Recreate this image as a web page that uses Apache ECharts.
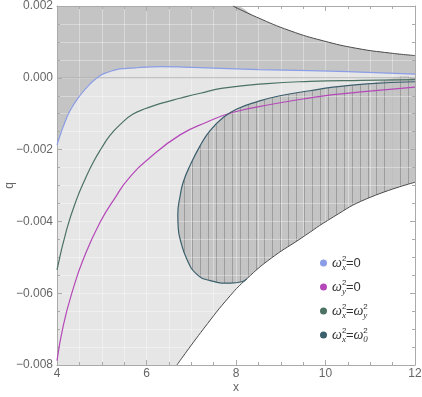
<!DOCTYPE html>
<html>
<head>
<meta charset="utf-8">
<script src="https://cdn.jsdelivr.net/npm/echarts@6/dist/echarts.min.js"></script>
<style>
  html, body { margin: 0; padding: 0; background: #fff; }
  #main { width: 422px; height: 397px; }
</style>
</head>
<body>
<div id="main"></div>
<script>
// curve samples
var blueX = [4, 4.07, 4.14, 4.29, 4.51, 4.74, 4.96, 5.15, 5.33, 5.55, 5.78, 6.3, 6.82, 7.5, 8.5, 9.65, 10.5, 12];
var blueY = [-0.00187, -0.0016, -0.00136, -0.00092, -0.0005, -0.00017, 0.00006, 0.00016, 0.00023, 0.00026, 0.00028, 0.00031, 0.0003, 0.00027, 0.00023, 0.0002, 0.00017, 0.0001];

var purpleX = [4, 4.14, 4.36, 4.59, 4.96, 5.33, 5.59, 6.08, 6.75, 7.34, 7.94, 8.83, 9.5, 10.17, 10.92, 12];
var purpleY = [-0.00788, -0.0069, -0.00588, -0.00505, -0.00403, -0.00328, -0.00282, -0.00222, -0.00159, -0.00124, -0.00096, -0.00073, -0.00059, -0.00047, -0.00038, -0.00026];

var greenX = [4, 4.22, 4.44, 4.63, 4.81, 5.0, 5.18, 5.44, 5.7, 6.0, 6.3, 6.75, 7.2, 7.71, 8.69, 9.65, 10.8, 12];
var greenY = [-0.00535, -0.00421, -0.00338, -0.00282, -0.00235, -0.00195, -0.00161, -0.00127, -0.00101, -0.00085, -0.00072, -0.00057, -0.00043, -0.00029, -0.00016, -0.0001, -0.00007, -0.00005];

// closed curve, starting at the right edge, upper branch first
var tealX = [12, 10.92, 10.17, 9.65, 8.98, 8.46, 8.02, 7.72, 7.42, 7.2, 6.97, 6.82, 6.75, 6.7, 6.71, 6.75, 6.9, 7.12, 7.42, 7.87, 8.13, 8.24];
var tealY = [-0.00011, -0.00017, -0.00026, -0.00036, -0.0005, -0.00067, -0.00087, -0.0011, -0.00147, -0.00189, -0.00245, -0.00291, -0.0033, -0.0038, -0.0042, -0.00449, -0.00505, -0.00547, -0.00565, -0.00572, -0.00568, -0.0056];

var lowerX = [6.68, 7.27, 7.87, 8.24, 8.76, 9.43, 10.17, 10.92, 12];
var lowerY = [-0.008, -0.007, -0.00607, -0.0056, -0.00505, -0.00449, -0.00388, -0.00337, -0.00291];

var topX = [4, 7.93, 8.46, 9.21, 9.95, 10.7, 11.44, 12];
var topY = [0.002, 0.002, 0.00169, 0.00131, 0.00103, 0.00082, 0.00069, 0.00062];

var xTicks = [4, 12, 2];
var yTicks = [-0.008, 0.002, 0.002];

var names = ['wx', 'wy', 'wxy', 'wx0'];
var labels = {
    wx: '{w|ω}{p|2}{b|x}{t|=0}',
    wy: '{w|ω}{p|2}{b|y}{t|=0}',
    wxy: '{w|ω}{p|2}{b|x}{t|=}{w|ω}{p|2}{b|y}',
    wx0: '{w|ω}{p|2}{b|x}{t|=}{w|ω}{p|2}{b|0}'
};

function pairs(xs, ys) {
    return xs.map(function (x, i) { return [x, ys[i]]; });
}

// hatched region = closed curve + lower boundary back to right edge
var hatchPts = pairs(tealX, tealY).concat(pairs(lowerX, lowerY).slice(4));

var pat = document.createElement('canvas');
pat.width = 8; pat.height = 8;
var ctx = pat.getContext('2d');
ctx.fillStyle = '#c4c4c4';
ctx.fillRect(0, 0, 8, 8);
ctx.fillStyle = '#9c9c9c';
ctx.fillRect(0, 0, 1, 8);

var myChart = echarts.init(document.getElementById('main'));

var gridLine = { show: true, lineStyle: { color: 'rgba(255,255,255,0.35)', width: 1 } };
var frame = { show: true, onZero: false, lineStyle: { color: '#aaa', width: 1 } };
var tickIn = { show: true, inside: true, length: 5, lineStyle: { color: '#aaa' } };
var minorIn = { show: true, splitNumber: 4, length: 3, lineStyle: { color: '#aaa' } };
var labelFont = { color: '#666', fontSize: 12, fontFamily: 'Liberation Sans' };

function fill(data, color) {
    return {
        type: 'line', data: data, smooth: true, symbol: 'none', silent: true, z: 1,
        lineStyle: { width: 0 },
        areaStyle: { color: color, opacity: 1, origin: 'start' }
    };
}

function curve(name, data, color, w) {
    return {
        name: name, type: 'line', data: data, smooth: true,
        symbol: 'none', z: 5,
        lineStyle: { color: color, width: w || 1.2 },
        itemStyle: { color: color }
    };
}

var option = {
    animation: false,
    grid: { left: 57, right: 7, top: 6, bottom: 32, containLabel: false, outerBoundsMode: 'none' },
    legend: {
        data: names,
        orient: 'vertical',
        left: 315,
        top: 249,
        icon: 'circle',
        itemWidth: 7,
        itemHeight: 7,
        itemGap: 6,
        formatter: function (n) { return labels[n]; },
        textStyle: {
            color: '#333',
            rich: {
                w: { fontFamily: 'Liberation Serif', fontStyle: 'italic', fontSize: 14, lineHeight: 18 },
                p: { fontFamily: 'Liberation Sans', fontSize: 8, width: 0, verticalAlign: 'top', lineHeight: 18, padding: [1, 0, 0, 0] },
                b: { fontFamily: 'Liberation Serif', fontStyle: 'italic', fontSize: 9, verticalAlign: 'bottom', lineHeight: 18 },
                t: { fontFamily: 'Liberation Sans', fontSize: 13, lineHeight: 18 }
            }
        }
    },
    xAxis: [{
        type: 'value', min: xTicks[0], max: xTicks[1], interval: xTicks[2], z: 3,
        name: 'x', nameLocation: 'middle', nameGap: 17, nameMoveOverlap: false,
        nameTextStyle: labelFont,
        axisLine: frame, axisTick: tickIn, minorTick: minorIn,
        axisLabel: Object.assign({ margin: 3 }, labelFont),
        splitLine: gridLine, minorSplitLine: gridLine
    }, {
        type: 'value', position: 'top', min: xTicks[0], max: xTicks[1], interval: xTicks[2], z: 3,
        axisLine: frame, axisTick: tickIn, minorTick: minorIn,
        axisLabel: { show: false }, splitLine: { show: false }
    }],
    yAxis: [{
        type: 'value', min: yTicks[0], max: yTicks[1], interval: yTicks[2], z: 3,
        name: 'q', nameLocation: 'middle', nameGap: 41, nameMoveOverlap: false,
        nameTextStyle: labelFont,
        axisLine: frame, axisTick: tickIn, minorTick: minorIn,
        axisLabel: Object.assign({
            margin: 4,
            formatter: function (v) {
                if (Math.abs(v) < 1e-9) return '0.000';
                return v.toFixed(3).replace('-', '\u2212');
            }
        }, labelFont),
        splitLine: gridLine, minorSplitLine: gridLine
    }, {
        type: 'value', position: 'right', min: yTicks[0], max: yTicks[1], interval: yTicks[2], z: 3,
        axisLine: frame, axisTick: tickIn, minorTick: minorIn,
        axisLabel: { show: false }, splitLine: { show: false }
    }],
    series: [
        fill(pairs(topX, topY), '#c4c4c4'),
        fill(pairs(blueX, blueY), '#e6e6e6'),
        {
            type: 'custom', silent: true, z: 1, clip: true,
            data: hatchPts,
            renderItem: function (params, api) {
                if (params.dataIndex !== 0) return null;
                var pts = hatchPts.map(function (p) { return api.coord(p); });
                return {
                    type: 'polygon',
                    shape: { points: pts, smooth: 0.4 },
                    style: { fill: { image: pat, repeat: 'repeat' }, stroke: null }
                };
            }
        },
        // white below the lower boundary, drawn after the hatch so it trims it
        fill(pairs(lowerX, lowerY), '#ffffff'),
        {
            type: 'line', data: [[xTicks[0], 0], [xTicks[1], 0]], symbol: 'none', silent: true, z: 4,
            lineStyle: { color: '#b2b2b2', width: 1 }
        },
        curve('top', pairs(topX.slice(1), topY.slice(1)), '#4a4a4a', 1),
        curve('lower', pairs(lowerX, lowerY), '#4a4a4a', 1),
        curve('wx', pairs(blueX, blueY), '#8b9de6'),
        curve('wy', pairs(purpleX, purpleY), '#b548b8'),
        curve('wxy', pairs(greenX, greenY), '#4b7262'),
        curve('wx0', pairs(tealX, tealY), '#3c5f6d')
    ]
};

myChart.setOption(option);
</script>
</body>
</html>
